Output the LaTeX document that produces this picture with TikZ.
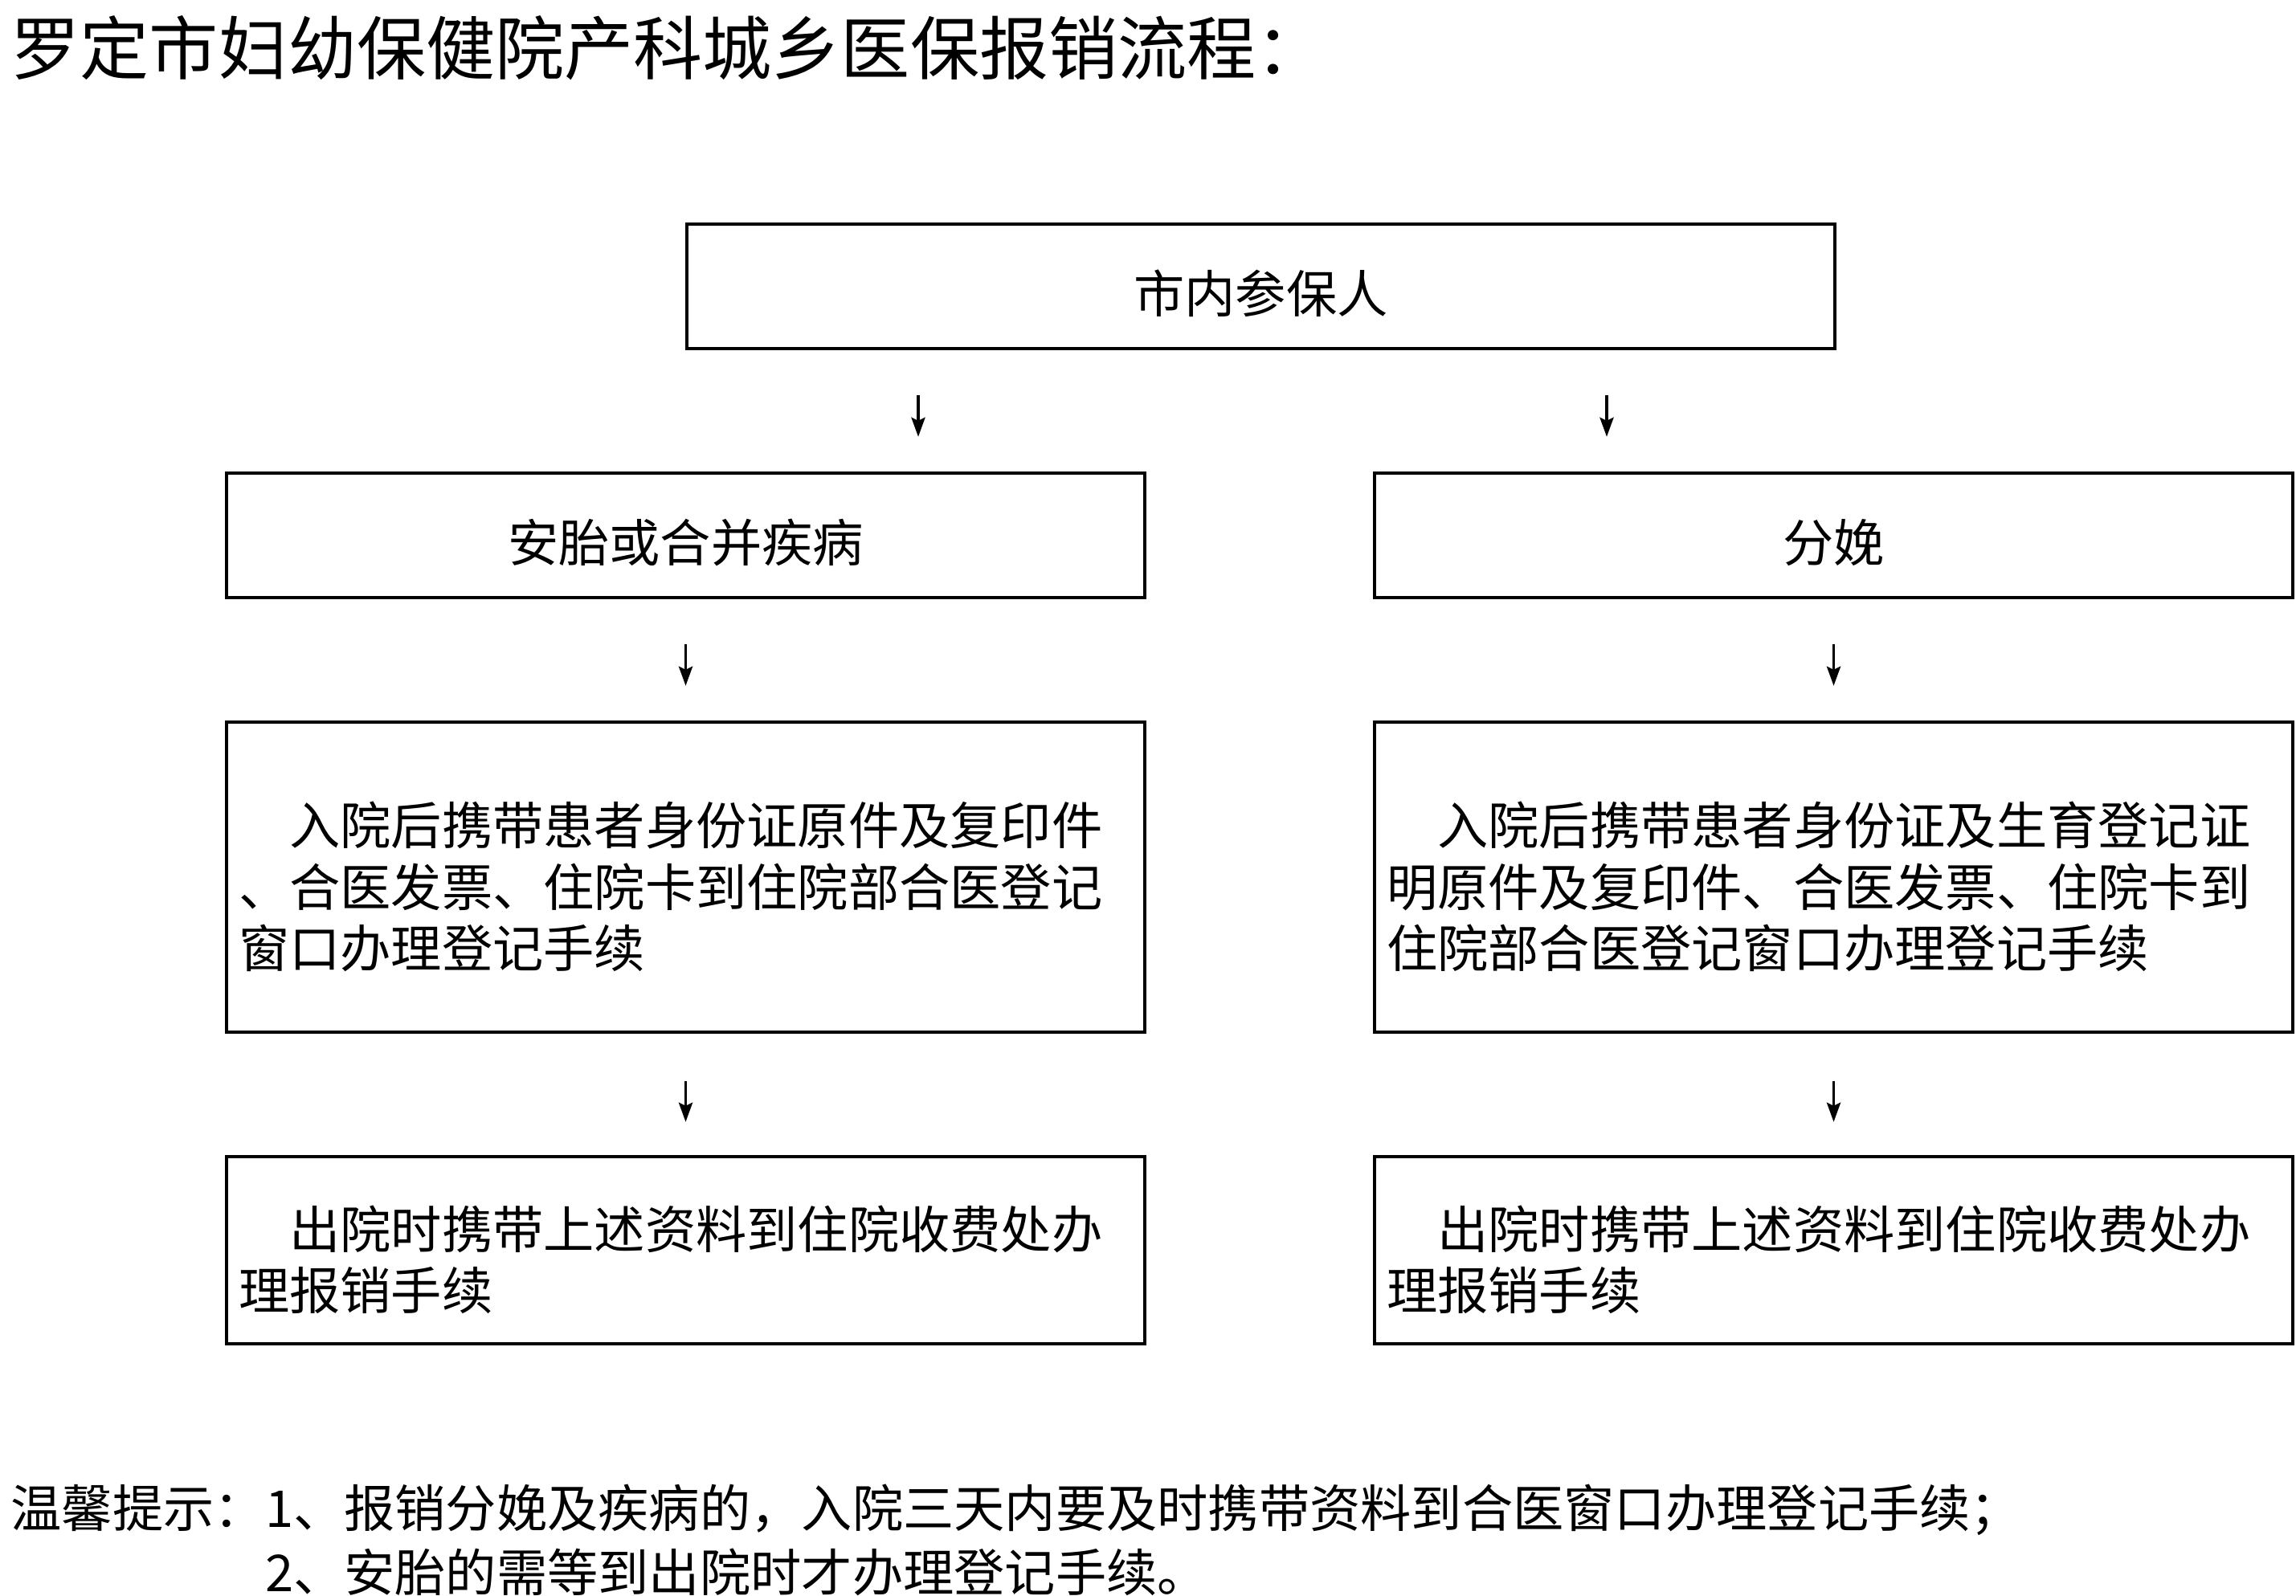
\documentclass[tikz,border=0pt]{standalone}
\usepackage{fontspec}
\setmainfont{Noto Sans CJK SC}
\usetikzlibrary{arrows.meta,positioning}

\begin{document}
\begin{tikzpicture}[font=\fontsize{18pt}{21.7pt}\selectfont,
  box/.style={draw,line width=1.25pt,inner sep=0pt,minimum width=11.43cm,minimum height=1.55cm},
  txtbox/.style={draw,line width=1.25pt,inner xsep=0.15cm,inner ysep=0pt,text width=11.13cm,align=left},
  arr/.style={line width=1.1pt,-{Stealth[length=0.24cm,width=0.17cm,inset=0.04cm]}}]
\useasboundingbox (0,0) rectangle (28.58,-19.86);

\node[anchor=west,inner sep=0pt,font=\fontsize{24.5pt}{28pt}\selectfont] (title) at (0.13,-0.60) {罗定市妇幼保健院产科城乡医保报销流程：};

% Boxes
\node[box,minimum width=14.29cm] (top) at (15.695,-3.565) {\raisebox{-0.09cm}[\height][\depth]{市内参保人}};
\node[box] (antai)   at (8.535,-6.665)  {\raisebox{-0.09cm}[\height][\depth]{安胎或合并疾病}};
\node[box] (fenmian) at (22.825,-6.665) {\raisebox{-0.09cm}[\height][\depth]{分娩}};

\node[txtbox,minimum height=3.86cm] (regL) at (8.535,-10.92)
  {\rule{0pt}{22pt}\hspace*{1em}入院后携带患者身份证原件及复印件\\、合医发票、住院卡到住院部合医登记\\窗口办理登记手续};
\node[txtbox,minimum height=3.86cm] (regR) at (22.825,-10.92)
  {\rule{0pt}{22pt}\hspace*{1em}入院后携带患者身份证及生育登记证\\明原件及复印件、合医发票、住院卡到\\住院部合医登记窗口办理登记手续};

\node[txtbox,minimum height=2.33cm] (outL) at (8.535,-15.565)
  {\rule{0pt}{22pt}\hspace*{1em}出院时携带上述资料到住院收费处办\\理报销手续};
\node[txtbox,minimum height=2.33cm] (outR) at (22.825,-15.565)
  {\rule{0pt}{22pt}\hspace*{1em}出院时携带上述资料到住院收费处办\\理报销手续};

% Arrows
\coordinate (a1) at ([xshift=-4.265cm]top.south);
\coordinate (a2) at ([xshift=4.305cm]top.south);
\draw[arr,shorten <=0.56cm,shorten >=0.43cm] (a1) -- (a1 |- antai.north);
\draw[arr,shorten <=0.56cm,shorten >=0.43cm] (a2) -- (a2 |- fenmian.north);
\draw[arr,shorten <=0.56cm,shorten >=0.43cm] (antai.south) -- (regL.north);
\draw[arr,shorten <=0.56cm,shorten >=0.43cm] (fenmian.south) -- (regR.north);
\draw[arr,shorten <=0.59cm,shorten >=0.41cm] (regL.south) -- (outL.north);
\draw[arr,shorten <=0.59cm,shorten >=0.41cm] (regR.south) -- (outR.north);

\node[anchor=west,inner sep=0pt,align=left,font=\fontsize{18pt}{22.7pt}\selectfont] (tip) at (0.13,-19.17)
  {温馨提示：1、报销分娩及疾病的，入院三天内要及时携带资料到合医窗口办理登记手续；\\
   \hphantom{温馨提示：}2、安胎的需等到出院时才办理登记手续。};
\end{tikzpicture}
\end{document}
